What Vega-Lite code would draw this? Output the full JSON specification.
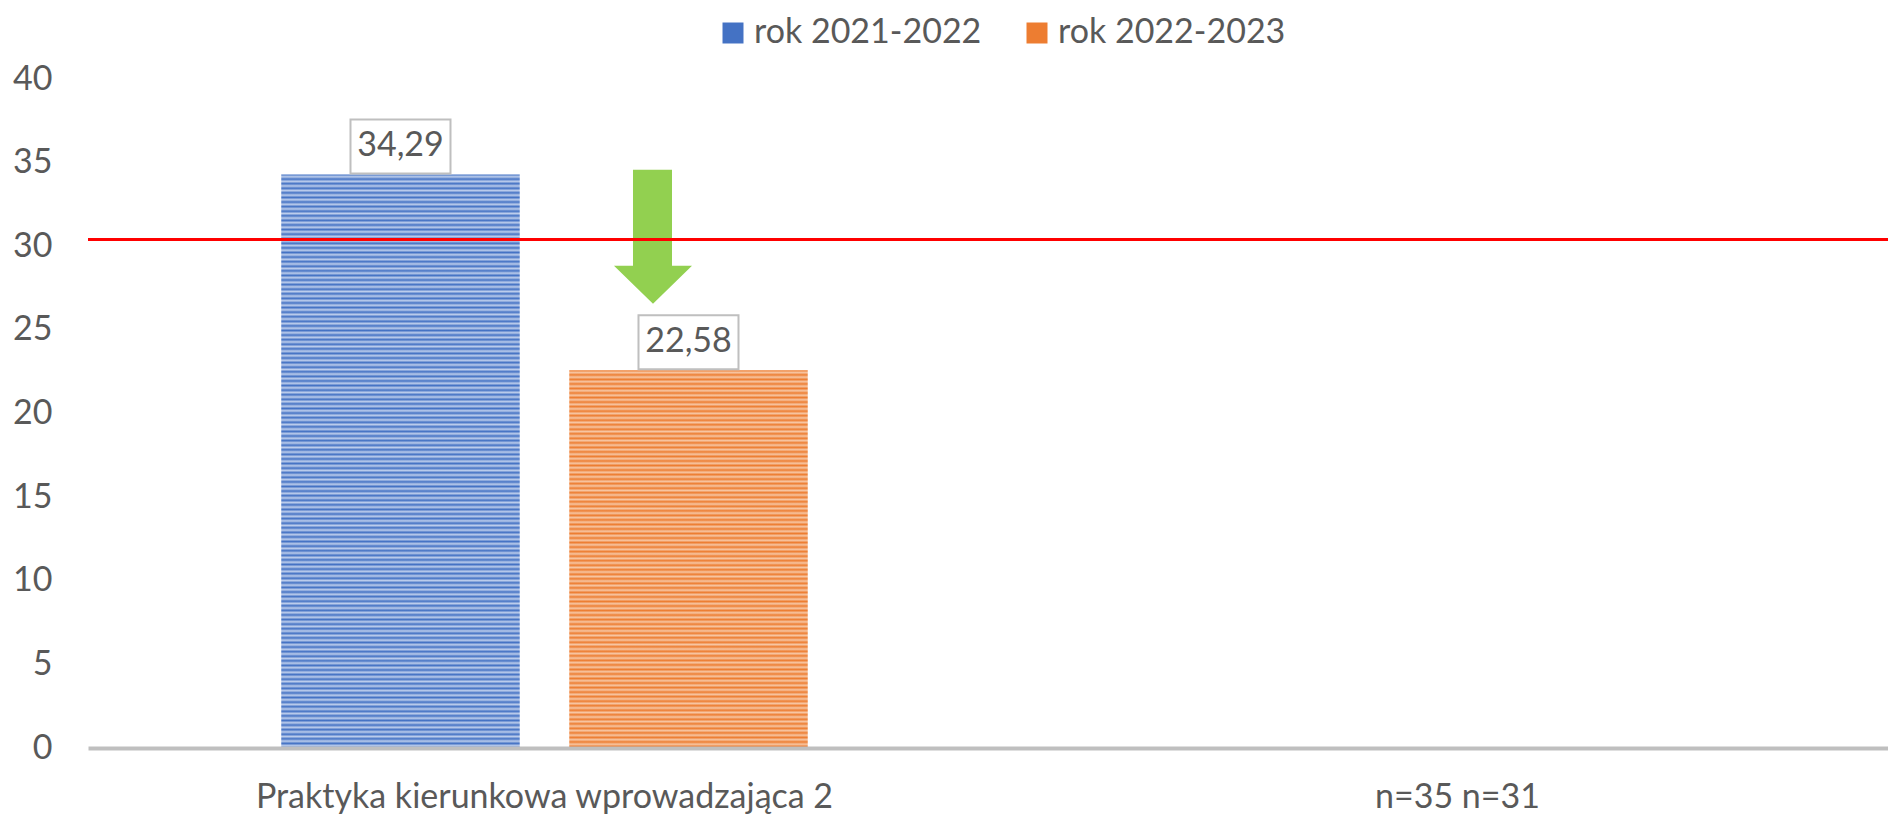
{
"$schema": "https://vega.github.io/schema/vega-lite/v6.json",
"width": 1800,
"height": 669,
"autosize": {"type": "none"},
"padding": {"left": 88, "top": 79, "right": 0, "bottom": 67},
"background": "white",
"config": {
"view": {"stroke": null},
"font": "Lato",
"locale": {"number": {"decimal": ",", "thousands": " ", "grouping": [3], "currency": ["", " zł"]}},
"axis": {"labelFont": "Lato", "labelFontSize": 34, "labelColor": "#595959", "grid": false, "labelLimit": 1000}
},
"data": {"values": [
{"category": "Praktyka kierunkowa wprowadzająca 2", "series": "rok 2021-2022", "value": 34.29},
{"category": "Praktyka kierunkowa wprowadzająca 2", "series": "rok 2022-2023", "value": 22.58}
]},
"layer": [
{
"transform": [{"filter": "datum.series === 'rok 2021-2022'"}],
"mark": {"type": "bar", "strokeWidth": 0, "color": {"gradient": "linear", "x1": 0, "y1": 0, "x2": 0, "y2": 1, "stops": [
{"offset":0,"color":"#4472c4"},{"offset":0.004,"color":"#bccdec"},{"offset":0.008,"color":"#4472c4"},{"offset":0.012,"color":"#bccdec"},{"offset":0.016,"color":"#4472c4"},{"offset":0.02,"color":"#bccdec"},{"offset":0.024,"color":"#4472c4"},{"offset":0.028,"color":"#bccdec"},{"offset":0.032,"color":"#4472c4"},{"offset":0.036,"color":"#bccdec"},
{"offset":0.04,"color":"#4472c4"},{"offset":0.044,"color":"#bccdec"},{"offset":0.048,"color":"#4472c4"},{"offset":0.052,"color":"#bccdec"},{"offset":0.056,"color":"#4472c4"},{"offset":0.06,"color":"#bccdec"},{"offset":0.064,"color":"#4472c4"},{"offset":0.068,"color":"#bccdec"},{"offset":0.072,"color":"#4472c4"},{"offset":0.076,"color":"#bccdec"},
{"offset":0.08,"color":"#4472c4"},{"offset":0.084,"color":"#bccdec"},{"offset":0.088,"color":"#4472c4"},{"offset":0.092,"color":"#bccdec"},{"offset":0.096,"color":"#4472c4"},{"offset":0.1,"color":"#bccdec"},{"offset":0.104,"color":"#4472c4"},{"offset":0.108,"color":"#bccdec"},{"offset":0.112,"color":"#4472c4"},{"offset":0.116,"color":"#bccdec"},
{"offset":0.12,"color":"#4472c4"},{"offset":0.124,"color":"#bccdec"},{"offset":0.128,"color":"#4472c4"},{"offset":0.132,"color":"#bccdec"},{"offset":0.136,"color":"#4472c4"},{"offset":0.14,"color":"#bccdec"},{"offset":0.144,"color":"#4472c4"},{"offset":0.148,"color":"#bccdec"},{"offset":0.152,"color":"#4472c4"},{"offset":0.156,"color":"#bccdec"},
{"offset":0.16,"color":"#4472c4"},{"offset":0.164,"color":"#bccdec"},{"offset":0.168,"color":"#4472c4"},{"offset":0.172,"color":"#bccdec"},{"offset":0.176,"color":"#4472c4"},{"offset":0.18,"color":"#bccdec"},{"offset":0.184,"color":"#4472c4"},{"offset":0.188,"color":"#bccdec"},{"offset":0.192,"color":"#4472c4"},{"offset":0.196,"color":"#bccdec"},
{"offset":0.2,"color":"#4472c4"},{"offset":0.204,"color":"#bccdec"},{"offset":0.208,"color":"#4472c4"},{"offset":0.212,"color":"#bccdec"},{"offset":0.216,"color":"#4472c4"},{"offset":0.22,"color":"#bccdec"},{"offset":0.224,"color":"#4472c4"},{"offset":0.228,"color":"#bccdec"},{"offset":0.232,"color":"#4472c4"},{"offset":0.236,"color":"#bccdec"},
{"offset":0.24,"color":"#4472c4"},{"offset":0.244,"color":"#bccdec"},{"offset":0.248,"color":"#4472c4"},{"offset":0.252,"color":"#bccdec"},{"offset":0.256,"color":"#4472c4"},{"offset":0.26,"color":"#bccdec"},{"offset":0.264,"color":"#4472c4"},{"offset":0.268,"color":"#bccdec"},{"offset":0.272,"color":"#4472c4"},{"offset":0.276,"color":"#bccdec"},
{"offset":0.28,"color":"#4472c4"},{"offset":0.284,"color":"#bccdec"},{"offset":0.288,"color":"#4472c4"},{"offset":0.292,"color":"#bccdec"},{"offset":0.296,"color":"#4472c4"},{"offset":0.3,"color":"#bccdec"},{"offset":0.304,"color":"#4472c4"},{"offset":0.308,"color":"#bccdec"},{"offset":0.312,"color":"#4472c4"},{"offset":0.316,"color":"#bccdec"},
{"offset":0.32,"color":"#4472c4"},{"offset":0.324,"color":"#bccdec"},{"offset":0.328,"color":"#4472c4"},{"offset":0.332,"color":"#bccdec"},{"offset":0.336,"color":"#4472c4"},{"offset":0.34,"color":"#bccdec"},{"offset":0.344,"color":"#4472c4"},{"offset":0.348,"color":"#bccdec"},{"offset":0.352,"color":"#4472c4"},{"offset":0.356,"color":"#bccdec"},
{"offset":0.36,"color":"#4472c4"},{"offset":0.364,"color":"#bccdec"},{"offset":0.368,"color":"#4472c4"},{"offset":0.372,"color":"#bccdec"},{"offset":0.376,"color":"#4472c4"},{"offset":0.38,"color":"#bccdec"},{"offset":0.384,"color":"#4472c4"},{"offset":0.388,"color":"#bccdec"},{"offset":0.392,"color":"#4472c4"},{"offset":0.396,"color":"#bccdec"},
{"offset":0.4,"color":"#4472c4"},{"offset":0.404,"color":"#bccdec"},{"offset":0.408,"color":"#4472c4"},{"offset":0.412,"color":"#bccdec"},{"offset":0.416,"color":"#4472c4"},{"offset":0.42,"color":"#bccdec"},{"offset":0.424,"color":"#4472c4"},{"offset":0.428,"color":"#bccdec"},{"offset":0.432,"color":"#4472c4"},{"offset":0.436,"color":"#bccdec"},
{"offset":0.44,"color":"#4472c4"},{"offset":0.444,"color":"#bccdec"},{"offset":0.448,"color":"#4472c4"},{"offset":0.452,"color":"#bccdec"},{"offset":0.456,"color":"#4472c4"},{"offset":0.46,"color":"#bccdec"},{"offset":0.464,"color":"#4472c4"},{"offset":0.468,"color":"#bccdec"},{"offset":0.472,"color":"#4472c4"},{"offset":0.476,"color":"#bccdec"},
{"offset":0.48,"color":"#4472c4"},{"offset":0.484,"color":"#bccdec"},{"offset":0.488,"color":"#4472c4"},{"offset":0.492,"color":"#bccdec"},{"offset":0.496,"color":"#4472c4"},{"offset":0.5,"color":"#bccdec"},{"offset":0.504,"color":"#4472c4"},{"offset":0.508,"color":"#bccdec"},{"offset":0.512,"color":"#4472c4"},{"offset":0.516,"color":"#bccdec"},
{"offset":0.52,"color":"#4472c4"},{"offset":0.524,"color":"#bccdec"},{"offset":0.528,"color":"#4472c4"},{"offset":0.532,"color":"#bccdec"},{"offset":0.536,"color":"#4472c4"},{"offset":0.54,"color":"#bccdec"},{"offset":0.544,"color":"#4472c4"},{"offset":0.548,"color":"#bccdec"},{"offset":0.552,"color":"#4472c4"},{"offset":0.556,"color":"#bccdec"},
{"offset":0.56,"color":"#4472c4"},{"offset":0.564,"color":"#bccdec"},{"offset":0.568,"color":"#4472c4"},{"offset":0.572,"color":"#bccdec"},{"offset":0.576,"color":"#4472c4"},{"offset":0.58,"color":"#bccdec"},{"offset":0.584,"color":"#4472c4"},{"offset":0.588,"color":"#bccdec"},{"offset":0.592,"color":"#4472c4"},{"offset":0.596,"color":"#bccdec"},
{"offset":0.6,"color":"#4472c4"},{"offset":0.604,"color":"#bccdec"},{"offset":0.608,"color":"#4472c4"},{"offset":0.612,"color":"#bccdec"},{"offset":0.616,"color":"#4472c4"},{"offset":0.62,"color":"#bccdec"},{"offset":0.624,"color":"#4472c4"},{"offset":0.628,"color":"#bccdec"},{"offset":0.632,"color":"#4472c4"},{"offset":0.636,"color":"#bccdec"},
{"offset":0.64,"color":"#4472c4"},{"offset":0.644,"color":"#bccdec"},{"offset":0.648,"color":"#4472c4"},{"offset":0.652,"color":"#bccdec"},{"offset":0.656,"color":"#4472c4"},{"offset":0.66,"color":"#bccdec"},{"offset":0.664,"color":"#4472c4"},{"offset":0.668,"color":"#bccdec"},{"offset":0.672,"color":"#4472c4"},{"offset":0.676,"color":"#bccdec"},
{"offset":0.68,"color":"#4472c4"},{"offset":0.684,"color":"#bccdec"},{"offset":0.688,"color":"#4472c4"},{"offset":0.692,"color":"#bccdec"},{"offset":0.696,"color":"#4472c4"},{"offset":0.7,"color":"#bccdec"},{"offset":0.704,"color":"#4472c4"},{"offset":0.708,"color":"#bccdec"},{"offset":0.712,"color":"#4472c4"},{"offset":0.716,"color":"#bccdec"},
{"offset":0.72,"color":"#4472c4"},{"offset":0.724,"color":"#bccdec"},{"offset":0.728,"color":"#4472c4"},{"offset":0.732,"color":"#bccdec"},{"offset":0.736,"color":"#4472c4"},{"offset":0.74,"color":"#bccdec"},{"offset":0.744,"color":"#4472c4"},{"offset":0.748,"color":"#bccdec"},{"offset":0.752,"color":"#4472c4"},{"offset":0.756,"color":"#bccdec"},
{"offset":0.76,"color":"#4472c4"},{"offset":0.764,"color":"#bccdec"},{"offset":0.768,"color":"#4472c4"},{"offset":0.772,"color":"#bccdec"},{"offset":0.776,"color":"#4472c4"},{"offset":0.78,"color":"#bccdec"},{"offset":0.784,"color":"#4472c4"},{"offset":0.788,"color":"#bccdec"},{"offset":0.792,"color":"#4472c4"},{"offset":0.796,"color":"#bccdec"},
{"offset":0.8,"color":"#4472c4"},{"offset":0.804,"color":"#bccdec"},{"offset":0.808,"color":"#4472c4"},{"offset":0.812,"color":"#bccdec"},{"offset":0.816,"color":"#4472c4"},{"offset":0.82,"color":"#bccdec"},{"offset":0.824,"color":"#4472c4"},{"offset":0.828,"color":"#bccdec"},{"offset":0.832,"color":"#4472c4"},{"offset":0.836,"color":"#bccdec"},
{"offset":0.84,"color":"#4472c4"},{"offset":0.844,"color":"#bccdec"},{"offset":0.848,"color":"#4472c4"},{"offset":0.852,"color":"#bccdec"},{"offset":0.856,"color":"#4472c4"},{"offset":0.86,"color":"#bccdec"},{"offset":0.864,"color":"#4472c4"},{"offset":0.868,"color":"#bccdec"},{"offset":0.872,"color":"#4472c4"},{"offset":0.876,"color":"#bccdec"},
{"offset":0.88,"color":"#4472c4"},{"offset":0.884,"color":"#bccdec"},{"offset":0.888,"color":"#4472c4"},{"offset":0.892,"color":"#bccdec"},{"offset":0.896,"color":"#4472c4"},{"offset":0.9,"color":"#bccdec"},{"offset":0.904,"color":"#4472c4"},{"offset":0.908,"color":"#bccdec"},{"offset":0.912,"color":"#4472c4"},{"offset":0.916,"color":"#bccdec"},
{"offset":0.92,"color":"#4472c4"},{"offset":0.924,"color":"#bccdec"},{"offset":0.928,"color":"#4472c4"},{"offset":0.932,"color":"#bccdec"},{"offset":0.936,"color":"#4472c4"},{"offset":0.94,"color":"#bccdec"},{"offset":0.944,"color":"#4472c4"},{"offset":0.948,"color":"#bccdec"},{"offset":0.952,"color":"#4472c4"},{"offset":0.956,"color":"#bccdec"},
{"offset":0.96,"color":"#4472c4"},{"offset":0.964,"color":"#bccdec"},{"offset":0.968,"color":"#4472c4"},{"offset":0.972,"color":"#bccdec"},{"offset":0.976,"color":"#4472c4"},{"offset":0.98,"color":"#bccdec"},{"offset":0.984,"color":"#4472c4"},{"offset":0.988,"color":"#bccdec"},{"offset":0.992,"color":"#4472c4"},{"offset":0.996,"color":"#bccdec"},
{"offset":1,"color":"#4472c4"}
]}},
"encoding": {
"x": {"field": "category", "type": "nominal", "sort": null,
"scale": {"domain": ["Praktyka kierunkowa wprowadzająca 2", "n=35 n=31"], "paddingInner": 0.1, "paddingOuter": 0.03576, "align": 0.699},
"axis": {"title": null, "labelAngle": 0, "domainColor": "#bfbfbf", "domainWidth": 4, "ticks": false, "tickSize": 0, "labelPadding": 59, "labelBaseline": "alphabetic", "labelLimit": 1000, "zindex": 1}},
"xOffset": {"field": "series", "type": "nominal", "scale": {"domain": ["rok 2021-2022", "rok 2022-2023"], "paddingInner": 0.1719, "paddingOuter": 0.5125}},
"y": {"field": "value", "type": "quantitative", "scale": {"domain": [0, 40], "nice": false},
"axis": {"title": null, "values": [0, 5, 10, 15, 20, 25, 30, 35, 40], "domain": false, "ticks": false, "tickSize": 0, "labelPadding": 36}}
}
},
{
"transform": [{"filter": "datum.series === 'rok 2022-2023'"}],
"mark": {"type": "bar", "strokeWidth": 0, "color": {"gradient": "linear", "x1": 0, "y1": 0, "x2": 0, "y2": 1, "stops": [
{"offset":0,"color":"#ed7d31"},{"offset":0.006,"color":"#f7c6a3"},{"offset":0.012,"color":"#ed7d31"},{"offset":0.018,"color":"#f7c6a3"},{"offset":0.024,"color":"#ed7d31"},{"offset":0.03,"color":"#f7c6a3"},{"offset":0.036,"color":"#ed7d31"},{"offset":0.042,"color":"#f7c6a3"},{"offset":0.048,"color":"#ed7d31"},{"offset":0.054,"color":"#f7c6a3"},
{"offset":0.06,"color":"#ed7d31"},{"offset":0.066,"color":"#f7c6a3"},{"offset":0.072,"color":"#ed7d31"},{"offset":0.078,"color":"#f7c6a3"},{"offset":0.084,"color":"#ed7d31"},{"offset":0.09,"color":"#f7c6a3"},{"offset":0.096,"color":"#ed7d31"},{"offset":0.102,"color":"#f7c6a3"},{"offset":0.108,"color":"#ed7d31"},{"offset":0.114,"color":"#f7c6a3"},
{"offset":0.12,"color":"#ed7d31"},{"offset":0.126,"color":"#f7c6a3"},{"offset":0.132,"color":"#ed7d31"},{"offset":0.138,"color":"#f7c6a3"},{"offset":0.144,"color":"#ed7d31"},{"offset":0.15,"color":"#f7c6a3"},{"offset":0.156,"color":"#ed7d31"},{"offset":0.162,"color":"#f7c6a3"},{"offset":0.168,"color":"#ed7d31"},{"offset":0.174,"color":"#f7c6a3"},
{"offset":0.18,"color":"#ed7d31"},{"offset":0.186,"color":"#f7c6a3"},{"offset":0.192,"color":"#ed7d31"},{"offset":0.198,"color":"#f7c6a3"},{"offset":0.204,"color":"#ed7d31"},{"offset":0.21,"color":"#f7c6a3"},{"offset":0.216,"color":"#ed7d31"},{"offset":0.222,"color":"#f7c6a3"},{"offset":0.228,"color":"#ed7d31"},{"offset":0.234,"color":"#f7c6a3"},
{"offset":0.24,"color":"#ed7d31"},{"offset":0.246,"color":"#f7c6a3"},{"offset":0.252,"color":"#ed7d31"},{"offset":0.258,"color":"#f7c6a3"},{"offset":0.264,"color":"#ed7d31"},{"offset":0.27,"color":"#f7c6a3"},{"offset":0.276,"color":"#ed7d31"},{"offset":0.282,"color":"#f7c6a3"},{"offset":0.288,"color":"#ed7d31"},{"offset":0.294,"color":"#f7c6a3"},
{"offset":0.3,"color":"#ed7d31"},{"offset":0.306,"color":"#f7c6a3"},{"offset":0.312,"color":"#ed7d31"},{"offset":0.318,"color":"#f7c6a3"},{"offset":0.324,"color":"#ed7d31"},{"offset":0.33,"color":"#f7c6a3"},{"offset":0.336,"color":"#ed7d31"},{"offset":0.342,"color":"#f7c6a3"},{"offset":0.348,"color":"#ed7d31"},{"offset":0.354,"color":"#f7c6a3"},
{"offset":0.36,"color":"#ed7d31"},{"offset":0.366,"color":"#f7c6a3"},{"offset":0.372,"color":"#ed7d31"},{"offset":0.378,"color":"#f7c6a3"},{"offset":0.384,"color":"#ed7d31"},{"offset":0.39,"color":"#f7c6a3"},{"offset":0.396,"color":"#ed7d31"},{"offset":0.402,"color":"#f7c6a3"},{"offset":0.408,"color":"#ed7d31"},{"offset":0.414,"color":"#f7c6a3"},
{"offset":0.42,"color":"#ed7d31"},{"offset":0.426,"color":"#f7c6a3"},{"offset":0.432,"color":"#ed7d31"},{"offset":0.438,"color":"#f7c6a3"},{"offset":0.444,"color":"#ed7d31"},{"offset":0.45,"color":"#f7c6a3"},{"offset":0.456,"color":"#ed7d31"},{"offset":0.462,"color":"#f7c6a3"},{"offset":0.468,"color":"#ed7d31"},{"offset":0.474,"color":"#f7c6a3"},
{"offset":0.48,"color":"#ed7d31"},{"offset":0.486,"color":"#f7c6a3"},{"offset":0.492,"color":"#ed7d31"},{"offset":0.498,"color":"#f7c6a3"},{"offset":0.504,"color":"#ed7d31"},{"offset":0.51,"color":"#f7c6a3"},{"offset":0.516,"color":"#ed7d31"},{"offset":0.522,"color":"#f7c6a3"},{"offset":0.528,"color":"#ed7d31"},{"offset":0.534,"color":"#f7c6a3"},
{"offset":0.54,"color":"#ed7d31"},{"offset":0.546,"color":"#f7c6a3"},{"offset":0.552,"color":"#ed7d31"},{"offset":0.558,"color":"#f7c6a3"},{"offset":0.564,"color":"#ed7d31"},{"offset":0.57,"color":"#f7c6a3"},{"offset":0.576,"color":"#ed7d31"},{"offset":0.582,"color":"#f7c6a3"},{"offset":0.588,"color":"#ed7d31"},{"offset":0.594,"color":"#f7c6a3"},
{"offset":0.6,"color":"#ed7d31"},{"offset":0.606,"color":"#f7c6a3"},{"offset":0.612,"color":"#ed7d31"},{"offset":0.618,"color":"#f7c6a3"},{"offset":0.624,"color":"#ed7d31"},{"offset":0.63,"color":"#f7c6a3"},{"offset":0.636,"color":"#ed7d31"},{"offset":0.642,"color":"#f7c6a3"},{"offset":0.648,"color":"#ed7d31"},{"offset":0.654,"color":"#f7c6a3"},
{"offset":0.66,"color":"#ed7d31"},{"offset":0.666,"color":"#f7c6a3"},{"offset":0.672,"color":"#ed7d31"},{"offset":0.678,"color":"#f7c6a3"},{"offset":0.684,"color":"#ed7d31"},{"offset":0.69,"color":"#f7c6a3"},{"offset":0.696,"color":"#ed7d31"},{"offset":0.702,"color":"#f7c6a3"},{"offset":0.708,"color":"#ed7d31"},{"offset":0.714,"color":"#f7c6a3"},
{"offset":0.72,"color":"#ed7d31"},{"offset":0.726,"color":"#f7c6a3"},{"offset":0.732,"color":"#ed7d31"},{"offset":0.738,"color":"#f7c6a3"},{"offset":0.744,"color":"#ed7d31"},{"offset":0.75,"color":"#f7c6a3"},{"offset":0.756,"color":"#ed7d31"},{"offset":0.762,"color":"#f7c6a3"},{"offset":0.768,"color":"#ed7d31"},{"offset":0.774,"color":"#f7c6a3"},
{"offset":0.78,"color":"#ed7d31"},{"offset":0.786,"color":"#f7c6a3"},{"offset":0.792,"color":"#ed7d31"},{"offset":0.798,"color":"#f7c6a3"},{"offset":0.804,"color":"#ed7d31"},{"offset":0.81,"color":"#f7c6a3"},{"offset":0.816,"color":"#ed7d31"},{"offset":0.822,"color":"#f7c6a3"},{"offset":0.828,"color":"#ed7d31"},{"offset":0.834,"color":"#f7c6a3"},
{"offset":0.84,"color":"#ed7d31"},{"offset":0.846,"color":"#f7c6a3"},{"offset":0.852,"color":"#ed7d31"},{"offset":0.858,"color":"#f7c6a3"},{"offset":0.864,"color":"#ed7d31"},{"offset":0.87,"color":"#f7c6a3"},{"offset":0.876,"color":"#ed7d31"},{"offset":0.882,"color":"#f7c6a3"},{"offset":0.888,"color":"#ed7d31"},{"offset":0.894,"color":"#f7c6a3"},
{"offset":0.9,"color":"#ed7d31"},{"offset":0.906,"color":"#f7c6a3"},{"offset":0.912,"color":"#ed7d31"},{"offset":0.918,"color":"#f7c6a3"},{"offset":0.924,"color":"#ed7d31"},{"offset":0.93,"color":"#f7c6a3"},{"offset":0.936,"color":"#ed7d31"},{"offset":0.942,"color":"#f7c6a3"},{"offset":0.948,"color":"#ed7d31"},{"offset":0.954,"color":"#f7c6a3"},
{"offset":0.96,"color":"#ed7d31"},{"offset":0.966,"color":"#f7c6a3"},{"offset":0.972,"color":"#ed7d31"},{"offset":0.978,"color":"#f7c6a3"},{"offset":0.984,"color":"#ed7d31"},{"offset":0.99,"color":"#f7c6a3"},{"offset":0.996,"color":"#ed7d31"},{"offset":1,"color":"#ed7d31"}
]}},
"encoding": {
"x": {"field": "category", "type": "nominal", "sort": null},
"xOffset": {"field": "series", "type": "nominal"},
"y": {"field": "value", "type": "quantitative"}
}
},
{
"transform": [{"filter": "false"}],
"mark": {"type": "square", "size": 441},
"encoding": {
"x": {"field": "category", "type": "nominal", "sort": null},
"xOffset": {"field": "series", "type": "nominal"},
"y": {"field": "value", "type": "quantitative"},
"color": {"field": "series", "type": "nominal",
"scale": {"domain": ["rok 2021-2022", "rok 2022-2023"], "range": ["#4472c4", "#ed7d31"]},
"legend": {"orient": "none", "legendX": 628, "legendY": -63, "direction": "horizontal", "title": null, "symbolType": "square", "symbolSize": 441, "symbolStrokeWidth": 0, "symbolOpacity": 1, "labelFont": "Lato", "labelFontSize": 34, "labelColor": "#595959", "labelLimit": 1000, "columnPadding": 38, "labelOffset": 4, "padding": 0,
"encode": {"symbols": {"update": {"fill": [
{"test": "datum.value === 'rok 2021-2022'", "value": {"gradient": "linear", "x1": 0, "y1": 0, "x2": 0, "y2": 1, "stops": [{"offset":0,"color":"#4472c4"},{"offset":0.1,"color":"#bccdec"},{"offset":0.2,"color":"#4472c4"},{"offset":0.3,"color":"#bccdec"},{"offset":0.4,"color":"#4472c4"},{"offset":0.5,"color":"#bccdec"},{"offset":0.6,"color":"#4472c4"},{"offset":0.7,"color":"#bccdec"},{"offset":0.8,"color":"#4472c4"},{"offset":0.9,"color":"#bccdec"},{"offset":1,"color":"#4472c4"}]}},
{"value": {"gradient": "linear", "x1": 0, "y1": 0, "x2": 0, "y2": 1, "stops": [{"offset":0,"color":"#ed7d31"},{"offset":0.1,"color":"#f7c6a3"},{"offset":0.2,"color":"#ed7d31"},{"offset":0.3,"color":"#f7c6a3"},{"offset":0.4,"color":"#ed7d31"},{"offset":0.5,"color":"#f7c6a3"},{"offset":0.6,"color":"#ed7d31"},{"offset":0.7,"color":"#f7c6a3"},{"offset":0.8,"color":"#ed7d31"},{"offset":0.9,"color":"#f7c6a3"},{"offset":1,"color":"#ed7d31"}]}}
]}}}}}
}
},
{
"transform": [{"filter": "datum.series === 'rok 2022-2023'"}],
"mark": {"type": "point", "shape": "M-1.11,-4.01H-0.33V-2.09H0.07L-0.71,-1.33L-1.49,-2.09H-1.11Z", "size": 10000, "filled": true, "fill": "#92d050", "strokeWidth": 0, "opacity": 1},
"encoding": {
"x": {"field": "category", "type": "nominal", "sort": null},
"xOffset": {"field": "series", "type": "nominal"},
"y": {"field": "value", "type": "quantitative"}
}
},
{
"data": {"values": [{"threshold": 30.4}]},
"mark": {"type": "rule", "color": "#ff0000", "strokeWidth": 3},
"encoding": {"y": {"field": "threshold", "type": "quantitative"}}
},
{
"mark": {"type": "point", "shape": "M-1,-1.1H1V-0.02H-1Z", "size": 10000, "filled": true, "fill": "#ffffff", "stroke": "#bfbfbf", "strokeWidth": 2, "opacity": 1},
"encoding": {
"x": {"field": "category", "type": "nominal", "sort": null},
"xOffset": {"field": "series", "type": "nominal"},
"y": {"field": "value", "type": "quantitative"}
}
},
{
"mark": {"type": "text", "font": "Lato", "fontSize": 34, "color": "#595959", "baseline": "middle", "align": "center", "dy": -28},
"encoding": {
"x": {"field": "category", "type": "nominal", "sort": null},
"xOffset": {"field": "series", "type": "nominal"},
"y": {"field": "value", "type": "quantitative"},
"text": {"field": "value", "type": "quantitative", "format": ".2f"}
}
}
]
}
